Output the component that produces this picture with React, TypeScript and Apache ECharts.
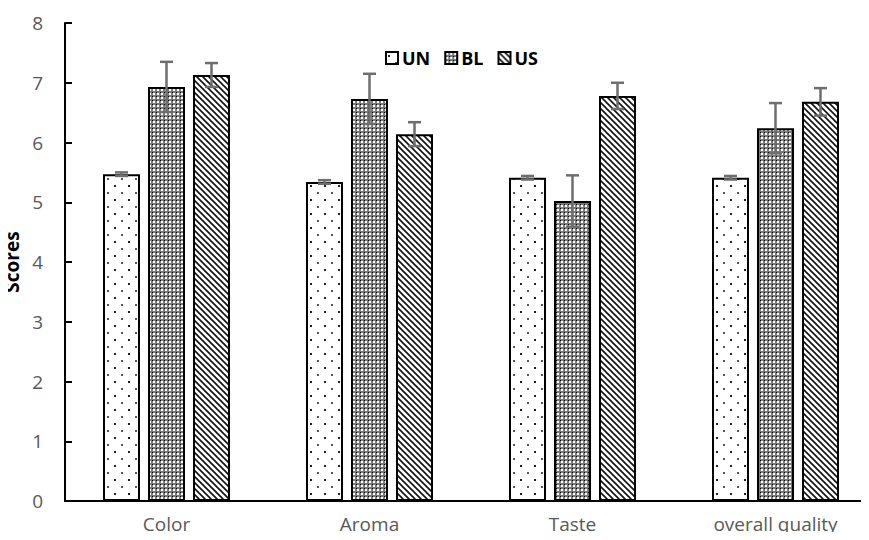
import React, { useEffect, useRef } from "react";
import * as echarts from "echarts";

const categories = ["Color", "Aroma", "Taste", "overall quality"];
const seriesNames = ["UN", "BL", "US"];
const unValues = [5.47, 5.34, 5.41, 5.41];
const blValues = [6.93, 6.73, 5.02, 6.24];
const usValues = [7.13, 6.14, 6.78, 6.68];
const unErr = [0.03, 0.03, 0.03, 0.03];
const blErr = [0.42, 0.42, 0.43, 0.42];
const usErr = [0.2, 0.2, 0.22, 0.23];
const yTicks = [0, 1, 2, 3, 4, 5, 6, 7, 8];

const BAR_W = 37;
const BAR_GAP = 8;

function makeTile(size: number, draw: (ctx: CanvasRenderingContext2D) => void) {
  const c = document.createElement("canvas");
  c.width = size;
  c.height = size;
  const ctx = c.getContext("2d")!;
  draw(ctx);
  return c;
}

function dotsPattern() {
  return makeTile(14, (ctx) => {
    ctx.fillStyle = "#ffffff";
    ctx.fillRect(0, 0, 14, 14);
    ctx.fillStyle = "#222";
    ctx.fillRect(2, 3, 2, 2);
    ctx.fillStyle = "#555";
    ctx.fillRect(9, 10, 2, 2);
  });
}

function gridPattern() {
  return makeTile(4, (ctx) => {
    ctx.fillStyle = "#7a7a7a";
    ctx.fillRect(0, 0, 4, 4);
    ctx.fillStyle = "#ffffff";
    ctx.fillRect(1, 1, 2, 2);
    ctx.fillStyle = "#000000";
    ctx.fillRect(0, 0, 1, 1);
  });
}

function stripePattern() {
  return makeTile(6, (ctx) => {
    ctx.fillStyle = "#ffffff";
    ctx.fillRect(0, 0, 6, 6);
    ctx.strokeStyle = "#111";
    ctx.lineWidth = 1.6;
    for (let k = -2; k <= 2; k++) {
      ctx.beginPath();
      ctx.moveTo(k * 6 - 1, -1);
      ctx.lineTo(k * 6 + 7, 7);
      ctx.stroke();
    }
  });
}

export default function App() {
  const ref = useRef<HTMLDivElement>(null);
  useEffect(() => {
    if (!ref.current) return;
    const chart = echarts.init(ref.current, null, { renderer: "svg" });
    const patterns = [dotsPattern(), gridPattern(), stripePattern()];
    const values = [unValues, blValues, usValues];
    const errs = [unErr, blErr, usErr];
    const fontFamily = "'Open Sans', 'Noto Sans', sans-serif";

    const barSeries = seriesNames.map((name, i) => ({
      name,
      type: "bar",
      data: values[i],
      barWidth: BAR_W,
      barGap: `${(BAR_GAP / BAR_W) * 100}%`,
      itemStyle: {
        color: { image: patterns[i], repeat: "repeat" },
        borderColor: "#000",
        borderWidth: 2,
      },
      z: 2,
    }));

    const errData: number[][] = [];
    seriesNames.forEach((_, si) => {
      values[si].forEach((v, ci) => {
        errData.push([ci, v, errs[si][ci], si]);
      });
    });

    const errSeries = {
      type: "custom",
      name: "err",
      data: errData,
      z: 5,
      silent: true,
      renderItem: (params: any, api: any) => {
        const ci = api.value(0);
        const v = api.value(1);
        const e = api.value(2);
        const si = api.value(3);
        const off = (si - 1) * (BAR_W + BAR_GAP);
        const top = api.coord([ci, v + e]);
        const bot = api.coord([ci, v - e]);
        const x = top[0] + off;
        const cap = 6.5;
        const style = { stroke: "#6e6e6e", lineWidth: 2.5 };
        return {
          type: "group",
          children: [
            { type: "line", shape: { x1: x, y1: top[1], x2: x, y2: bot[1] }, style },
            { type: "line", shape: { x1: x - cap, y1: top[1], x2: x + cap, y2: top[1] }, style },
            { type: "line", shape: { x1: x - cap, y1: bot[1], x2: x + cap, y2: bot[1] }, style },
          ],
        };
      },
    };

    chart.setOption({
      animation: false,
      backgroundColor: "#ffffff",
      legend: {
        data: seriesNames,
        top: 44,
        left: 380,
        itemWidth: 12,
        itemHeight: 12,
        itemGap: 14,
        icon: "rect",
        itemStyle: { borderColor: "#000", borderWidth: 2 },
        textStyle: { fontFamily, fontWeight: "bold", fontSize: 18, color: "#000", padding: [0, 0, 0, -1] },
      },
      grid: { left: 65, top: 23, width: 812, bottom: 39, containLabel: false, outerBoundsMode: "none" },
      xAxis: {
        type: "category",
        data: categories,
        axisLine: { lineStyle: { color: "#000", width: 2 } },
        axisTick: { show: false },
        axisLabel: { color: "#595959", fontSize: 19, fontFamily, margin: 13 },
      },
      yAxis: {
        type: "value",
        min: yTicks[0],
        max: yTicks[yTicks.length - 1],
        interval: 1,
        name: "Scores",
        nameLocation: "middle",
        nameGap: 33,
        nameTextStyle: { fontFamily, fontWeight: "bold", fontSize: 19, color: "#000" },
        axisLine: { show: true, lineStyle: { color: "#000", width: 2 } },
        axisTick: { show: true, inside: true, length: 7, lineStyle: { color: "#000", width: 2 } },
        splitLine: { show: false },
        axisLabel: { color: "#595959", fontSize: 19, fontFamily, margin: 22 },
      },
      series: [...barSeries, errSeries],
    });
    return () => chart.dispose();
  }, []);
  return <div ref={ref} style={{ width: 869, height: 540, margin: -8 }} />;
}
